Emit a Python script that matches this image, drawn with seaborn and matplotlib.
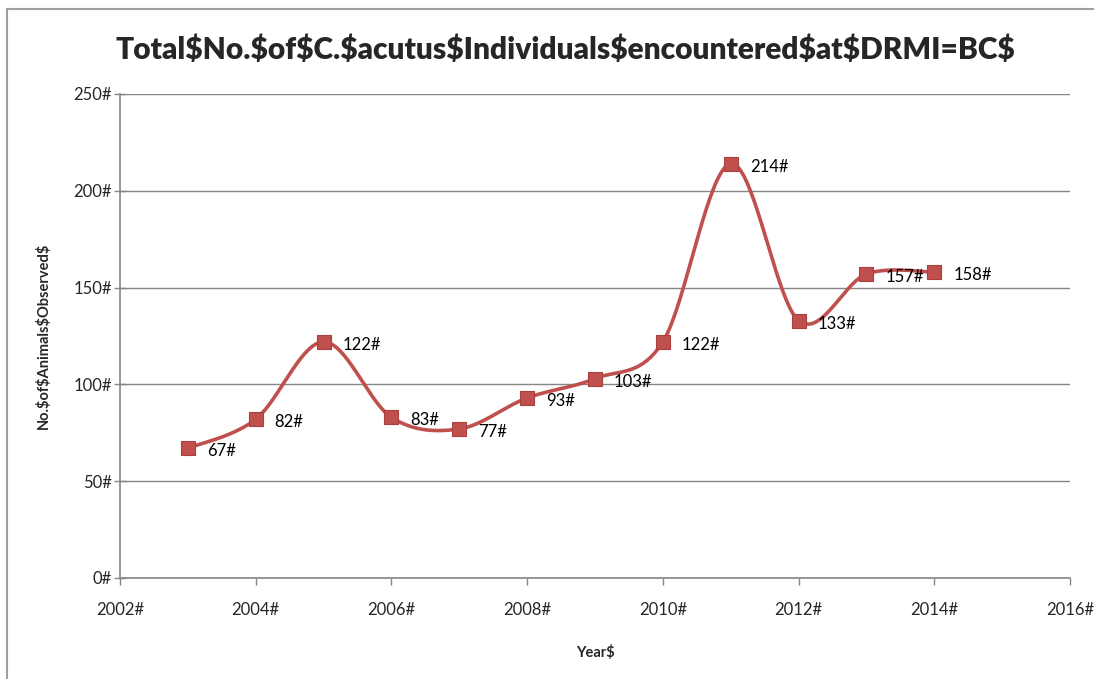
import numpy as np
import pandas as pd
import matplotlib
matplotlib.use("Agg")
import matplotlib.pyplot as plt
import seaborn as sns
from matplotlib.lines import Line2D

years = [2003, 2004, 2005, 2006, 2007, 2008, 2009, 2010, 2011, 2012, 2013, 2014]
counts = [67, 82, 122, 83, 77, 93, 103, 122, 214, 133, 157, 158]
x_ticks = [2002, 2004, 2006, 2008, 2010, 2012, 2014, 2016]
x_tick_labels = ["2002#", "2004#", "2006#", "2008#", "2010#", "2012#", "2014#", "2016#"]
y_ticks = [0, 50, 100, 150, 200, 250]
y_tick_labels = ["0#", "50#", "100#", "150#", "200#", "250#"]
title = "Total$No.$of$C.$acutus$Individuals$encountered$at$DRMI=BC$"
xlabel = "Year$"
ylabel = "No.$of$Animals$Observed$"

sns.set_theme(style="white")
plt.rcParams["font.family"] = ["Lato", "DejaVu Sans"]
plt.rcParams["text.parse_math"] = False

RED = "#C0504D"
GRAY = "#868686"

fig = plt.figure(figsize=(10.94, 6.79), dpi=100)
ax = fig.add_axes([120 / 1094, 1 - 578 / 679, (1070 - 120) / 1094, (578 - 94) / 679])

# smooth curve (Catmull-Rom, like Excel smoothed line)
xs = np.array(years, float)
ys = np.array(counts, float)
px = np.concatenate([[xs[0]], xs, [xs[-1]]])
py = np.concatenate([[ys[0]], ys, [ys[-1]]])
cx, cy = [], []
t = np.linspace(0, 1, 40)
for i in range(1, len(px) - 2):
    p0x, p1x, p2x, p3x = px[i - 1], px[i], px[i + 1], px[i + 2]
    p0y, p1y, p2y, p3y = py[i - 1], py[i], py[i + 1], py[i + 2]
    b1x = p1x + (p2x - p0x) / 6
    b1y = p1y + (p2y - p0y) / 6
    b2x = p2x - (p3x - p1x) / 6
    b2y = p2y - (p3y - p1y) / 6
    bx = (1 - t) ** 3 * p1x + 3 * (1 - t) ** 2 * t * b1x + 3 * (1 - t) * t ** 2 * b2x + t ** 3 * p2x
    by = (1 - t) ** 3 * p1y + 3 * (1 - t) ** 2 * t * b1y + 3 * (1 - t) * t ** 2 * b2y + t ** 3 * p2y
    cx.extend(bx)
    cy.extend(by)
curve = pd.DataFrame({"x": cx, "y": cy})
ax.plot(curve["x"], curve["y"], color=RED, lw=2.6, zorder=3, solid_capstyle="round")

df = pd.DataFrame({"year": years, "count": counts})
sns.scatterplot(data=df, x="year", y="count", marker="s", s=110, color=RED,
                edgecolor="#A8403D", linewidth=0.8, ax=ax, zorder=4, legend=False)

for xv, yv in zip(years, counts):
    ax.annotate(f"{yv}#", (xv, yv), xytext=(19, -3), textcoords="offset pixels",
                ha="left", va="center", fontsize=12, color="black", zorder=5)

ax.set_xlim(2002, 2016)
ax.set_ylim(0, 250)
ax.set_xticks(x_ticks)
ax.set_xticklabels(x_tick_labels, fontsize=12)
ax.set_yticks(y_ticks)
ax.set_yticklabels(y_tick_labels, fontsize=12)
ax.yaxis.grid(True, color=GRAY, lw=1)
ax.xaxis.grid(False)
for s in ["top", "right"]:
    ax.spines[s].set_visible(False)
for s in ["left", "bottom"]:
    ax.spines[s].set_color(GRAY)
    ax.spines[s].set_linewidth(1.2)
ax.tick_params(axis="y", direction="inout", length=8, width=1, color=GRAY, pad=2, left=True)
ax.tick_params(axis="x", direction="out", length=5, width=1, color=GRAY, pad=12, bottom=True)

ax.set_xlabel(xlabel, fontsize=10.5, fontweight="bold", labelpad=20)
ax.set_ylabel(ylabel, fontsize=10.5, fontweight="bold", labelpad=16)
fig.text(565 / 1094, 1 - 50 / 679, title, ha="center", va="center",
         fontsize=21.5, fontweight="heavy")

# outer chart frame
fig.add_artist(Line2D([7 / 1094, 1], [1 - 9 / 679, 1 - 9 / 679], color="#A0A0A0", lw=1.5,
                      transform=fig.transFigure))
fig.add_artist(Line2D([7 / 1094, 7 / 1094], [0, 1 - 9 / 679], color="#A0A0A0", lw=1.5,
                      transform=fig.transFigure))

fig.savefig("out.png", dpi=100)
